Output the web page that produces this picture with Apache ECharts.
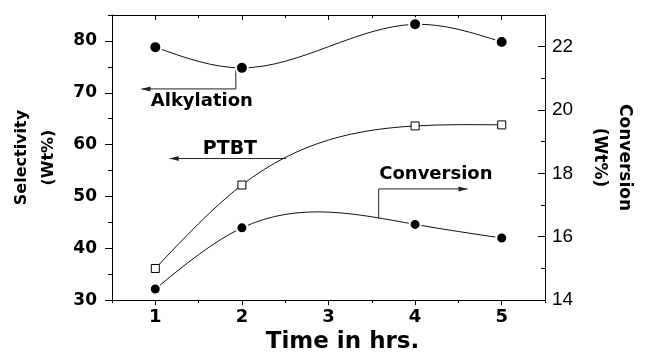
<!DOCTYPE html>
<html>
<head>
<meta charset="utf-8">
<script src="https://cdn.jsdelivr.net/npm/echarts@6/dist/echarts.min.js"></script>
<style>html,body{margin:0;padding:0;background:#fff;}#c{width:645px;height:359px;}</style>
</head>
<body>
<div id="c"></div>
<script>
// ---- data ----
const timeHrs = [1, 2, 4, 5];
const alkylation = [78.8, 74.8, 83.2, 79.8];   // Selectivity (Wt%), left axis
const ptbt = [36.1, 52.2, 63.6, 63.8];          // Selectivity (Wt%), left axis
const conversion = [14.35, 16.28, 16.39, 15.96]; // Conversion (Wt%), right axis
const xTicks = [1, 2, 3, 4, 5];
const leftTicks = [30, 40, 50, 60, 70, 80];
const rightTicks = [14, 16, 18, 20, 22];

const BOLD = '"DejaVu Sans", sans-serif';
const black = '#000';
const pairs = (ys) => timeHrs.map((t, i) => [t, ys[i]]);

// natural cubic spline second derivatives (used only to draw the connecting curve)
function splineM(xs, ys) {
  const n = xs.length, M = new Array(n).fill(0);
  if (n < 3) return M;
  const a = [], b = [], c = [], d = [];
  for (let i = 1; i < n - 1; i++) {
    const h0 = xs[i] - xs[i - 1], h1 = xs[i + 1] - xs[i];
    a.push(h0); b.push(2 * (h0 + h1)); c.push(h1);
    d.push(6 * ((ys[i + 1] - ys[i]) / h1 - (ys[i] - ys[i - 1]) / h0));
  }
  const m = b.length;
  for (let i = 1; i < m; i++) {
    const w = a[i] / b[i - 1];
    b[i] -= w * c[i - 1]; d[i] -= w * d[i - 1];
  }
  const sol = new Array(m);
  sol[m - 1] = d[m - 1] / b[m - 1];
  for (let i = m - 2; i >= 0; i--) sol[i] = (d[i] - c[i] * sol[i + 1]) / b[i];
  for (let i = 0; i < m; i++) M[i + 1] = sol[i];
  return M;
}

function curveSeries(name, ys, yAxisIndex) {
  const M = splineM(timeHrs, ys);
  return {
    name: name + ' curve', type: 'custom', xAxisIndex: 0, yAxisIndex: yAxisIndex, z: 1, silent: true,
    data: pairs(ys), encode: {x: 0, y: 1},
    renderItem: function (params, api) {
      const i = params.dataIndex;
      if (i >= timeHrs.length - 1) return null;
      const x0 = timeHrs[i], x1 = timeHrs[i + 1], y0 = ys[i], y1 = ys[i + 1];
      const h = x1 - x0;
      const s0 = (y1 - y0) / h - h * (2 * M[i] + M[i + 1]) / 6;
      const s1 = (y1 - y0) / h + h * (M[i] + 2 * M[i + 1]) / 6;
      const p0 = api.coord([x0, y0]);
      const c1 = api.coord([x0 + h / 3, y0 + s0 * h / 3]);
      const c2 = api.coord([x1 - h / 3, y1 - s1 * h / 3]);
      const p1 = api.coord([x1, y1]);
      return {
        type: 'bezierCurve',
        shape: {x1: p0[0], y1: p0[1], cpx1: c1[0], cpy1: c1[1], cpx2: c2[0], cpy2: c2[1], x2: p1[0], y2: p1[1]},
        style: {stroke: '#111', lineWidth: 1, fill: null}
      };
    }
  };
}

const chart = echarts.init(document.getElementById('c'), null, {renderer: 'canvas'});
const lineAx = {show: true, lineStyle: {color: black, width: 1}};
const noAx = {show: false};

chart.setOption({
  animation: false,
  backgroundColor: '#fff',
  grid: {left: 104, right: 83, top: 15, bottom: 55, containLabel: false},
  xAxis: [
    {type: 'value', position: 'bottom', min: 0.5, max: 5.5,
     axisLine: lineAx, splitLine: {show: false},
     axisTick: {show: true, inside: false, length: 5, customValues: xTicks, lineStyle: {color: black}},
     axisLabel: {customValues: xTicks, color: black, fontFamily: BOLD, fontWeight: 'bold', fontSize: 18, margin: 8},
     name: 'Time in hrs.', nameLocation: 'middle', nameGap: 28,
     nameTextStyle: {color: black, fontFamily: BOLD, fontWeight: 'bold', fontSize: 23, padding: [0, 0, 0, 28]}},
    {type: 'value', position: 'bottom', min: 0.5, max: 5.5, interval: 0.5,
     axisLine: noAx, splitLine: {show: false}, axisLabel: {show: false},
     axisTick: {show: true, inside: false, length: 3, lineStyle: {color: black}}},
    {type: 'value', position: 'top', min: 0.5, max: 5.5,
     axisLine: lineAx, splitLine: {show: false}, axisLabel: {show: false},
     axisTick: {show: true, inside: true, length: 5, customValues: xTicks, lineStyle: {color: black}}},
    {type: 'value', position: 'top', min: 0.5, max: 5.5, interval: 0.5,
     axisLine: noAx, splitLine: {show: false}, axisLabel: {show: false},
     axisTick: {show: true, inside: true, length: 3, lineStyle: {color: black}}}
  ],
  yAxis: [
    {type: 'value', position: 'left', min: 30, max: 85,
     axisLine: lineAx, splitLine: {show: false},
     axisTick: {show: true, inside: false, length: 7, customValues: leftTicks, lineStyle: {color: black}},
     axisLabel: {customValues: leftTicks, color: black, fontFamily: BOLD, fontWeight: 'bold', fontSize: 17, margin: 15},
     name: 'Selectivity\n(Wt%)', nameLocation: 'middle', nameGap: 50,
     nameTextStyle: {color: black, fontFamily: BOLD, fontWeight: 'bold', fontSize: 16, lineHeight: 27}},
    {type: 'value', position: 'left', min: 30, max: 85, interval: 5,
     axisLine: noAx, splitLine: {show: false}, axisLabel: {show: false},
     axisTick: {show: true, inside: false, length: 4, lineStyle: {color: black}}},
    {type: 'value', position: 'right', min: 14, max: 23,
     axisLine: lineAx, splitLine: {show: false},
     axisTick: {show: true, inside: true, length: 7, customValues: rightTicks, lineStyle: {color: black}},
     axisLabel: {customValues: rightTicks, color: black, fontFamily: '"Liberation Sans", Arial, sans-serif', fontSize: 19, margin: 7},
     name: 'Conversion\n(Wt%)', nameLocation: 'middle', nameGap: 42, nameRotate: -90,
     nameTextStyle: {color: black, fontFamily: BOLD, fontWeight: 'bold', fontSize: 17, lineHeight: 25}},
    {type: 'value', position: 'right', min: 14, max: 23, interval: 1,
     axisLine: noAx, splitLine: {show: false}, axisLabel: {show: false},
     axisTick: {show: true, inside: true, length: 4, lineStyle: {color: black}}}
  ],
  series: [
    curveSeries('Alkylation', alkylation, 0),
    curveSeries('PTBT', ptbt, 0),
    curveSeries('Conversion', conversion, 2),
    {name: 'Alkylation', type: 'scatter', xAxisIndex: 0, yAxisIndex: 0, z: 3,
     data: pairs(alkylation), symbol: 'circle', symbolSize: 12,
     itemStyle: {color: black, borderColor: '#fff', borderWidth: 2, opacity: 1}},
    {name: 'PTBT', type: 'scatter', xAxisIndex: 0, yAxisIndex: 0, z: 3,
     data: pairs(ptbt), symbol: 'rect', symbolSize: 8,
     itemStyle: {color: '#fff', borderColor: black, borderWidth: 1, opacity: 1}},
    {name: 'Conversion', type: 'scatter', xAxisIndex: 0, yAxisIndex: 2, z: 3,
     data: pairs(conversion), symbol: 'circle', symbolSize: 11,
     itemStyle: {color: black, borderColor: '#fff', borderWidth: 2, opacity: 1}}
  ]
});

// ---- annotations, anchored in data space (time, left-axis value) ----
const annotations = [
  {text: 'Alkylation', textAt: [0.948, 68.4], path: [[1.93, 75.0], [1.93, 70.74], [0.84, 70.74]], size: 18},
  {text: 'PTBT', textAt: [1.548, 59.1], path: [[2.512, 57.31], [1.166, 57.31]], size: 19},
  {text: 'Conversion', textAt: [3.586, 54.3], path: [[3.579, 45.72], [3.579, 51.45], [4.605, 51.45]], size: 18}
];
const px = (p) => chart.convertToPixel({xAxisIndex: 0, yAxisIndex: 0}, p);
const g = [];
annotations.forEach(a => {
  const pts = a.path.map(px);
  g.push({type: 'polyline', silent: true, shape: {points: pts}, style: {stroke: '#222', lineWidth: 1, fill: null}});
  const tip = pts[pts.length - 1], prev = pts[pts.length - 2];
  const dir = tip[0] > prev[0] ? 1 : -1;
  g.push({type: 'polygon', silent: true, shape: {points: [tip, [tip[0] - dir * 9, tip[1] - 2.5], [tip[0] - dir * 9, tip[1] + 2.5]]},
          style: {fill: '#222'}});
  const t = px(a.textAt);
  g.push({type: 'text', silent: true, x: t[0], y: t[1],
          style: {text: a.text, fill: black, font: 'bold ' + a.size + 'px "DejaVu Sans", sans-serif', align: 'left', verticalAlign: 'middle'}});
});
chart.setOption({graphic: g});
</script>
</body>
</html>
